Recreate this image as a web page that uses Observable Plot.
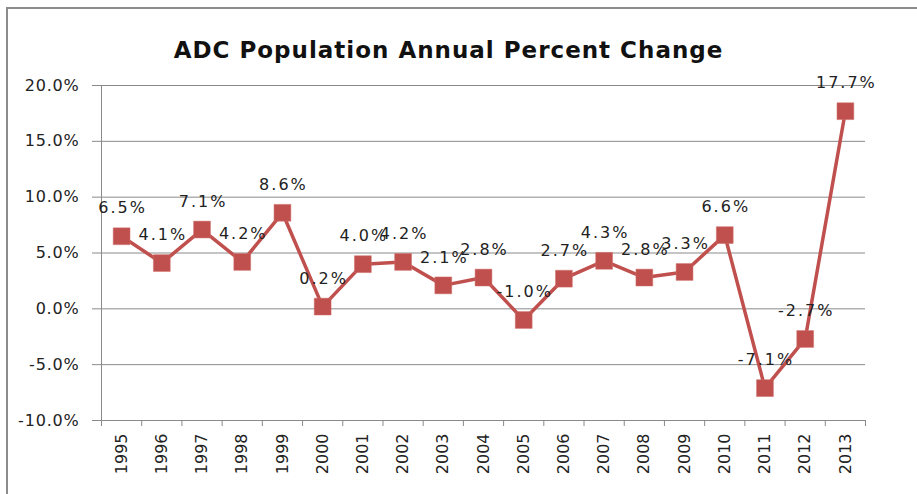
<!DOCTYPE html>
<html>
<head>
<meta charset="utf-8">
<script src="https://cdn.jsdelivr.net/npm/d3@7"></script>
<script src="https://cdn.jsdelivr.net/npm/@observablehq/plot@0.6"></script>
<style>
  body { margin: 0; background: #fff; }
  #wrap { position: relative; width: 917px; height: 494px; overflow: hidden; }
  #frame { position: absolute; left: 6px; top: 7px; width: 1000px; height: 1000px; border-left: 2px solid #8c8c8c; border-top: 2px solid #8c8c8c; }
  #title { position: absolute; left: 0; top: 37px; width: 897px; text-align: center; font: bold 23px "DejaVu Sans", sans-serif; letter-spacing: 1px; line-height: 26px; color: #111; white-space: nowrap; }
  #chart { position: absolute; left: 0; top: 70px; }
  #chart svg, #chart svg text { font-family: "DejaVu Sans", sans-serif !important; }
  #chart g[aria-label="text"] text { letter-spacing: 2px; }
  #chart g[aria-label="y-axis tick label"] text { letter-spacing: 0.8px; }
</style>
</head>
<body>
<div id="wrap">
  <div id="frame"></div>
  <div id="title">ADC Population Annual Percent Change</div>
  <div id="chart"></div>
</div>
<script>
const years = [1995,1996,1997,1998,1999,2000,2001,2002,2003,2004,2005,2006,2007,2008,2009,2010,2011,2012,2013];
const changes = [6.5,4.1,7.1,4.2,8.6,0.2,4.0,4.2,2.1,2.8,-1.0,2.7,4.3,2.8,3.3,6.6,-7.1,-2.7,17.7];
const yTicks = [-10,-5,0,5,10,15,20];

const data = years.map((y, i) => ({year: y, value: changes[i]}));
const bounds = [...years.map(y => y - 0.5), years[years.length - 1] + 0.5];
const color = "#C0504D";
const font = '"DejaVu Sans", sans-serif';

const chart = Plot.plot({
  width: 917,
  height: 420,
  marginTop: 15,
  marginBottom: 70,
  marginLeft: 101,
  marginRight: 52,
  style: {fontFamily: font, fontSize: "16px", color: "#222", background: "transparent"},
  x: {type: "linear", domain: [bounds[0], bounds[bounds.length - 1]]},
  y: {domain: [-10, 20]},
  marks: [
    Plot.gridY(yTicks, {stroke: "#8a8a8a", strokeOpacity: 1, strokeWidth: 1}),
    Plot.ruleX([bounds[0]], {y1: -10, y2: 20, stroke: "#8a8a8a", strokeWidth: 1}),
    Plot.axisY({ticks: yTicks, tickFormat: d => d.toFixed(1) + "%", tickSize: 9, tickPadding: 13, stroke: "#8a8a8a", label: null, fontSize: 16, fill: "#222"}),
    Plot.axisX({ticks: bounds, tickFormat: () => "", tickSize: 6, stroke: "#8a8a8a", label: null}),
    Plot.axisX({ticks: years, tickFormat: d => String(d), tickSize: 0, tickPadding: 13, tickRotate: -90, label: null, fontSize: 16, fill: "#222"}),
    Plot.line(data, {x: "year", y: "value", stroke: color, strokeWidth: 3.5}),
    Plot.dot(data, {x: "year", y: "value", symbol: "square", r: 9.5, fill: color, stroke: "#d0706d", strokeWidth: 0.5}),
    Plot.text(data, {x: "year", y: "value", text: d => d.value.toFixed(1) + "%", dy: -28, dx: 1, fontSize: 16, fill: "#222"})
  ]
});
document.getElementById("chart").append(chart);
</script>
</body>
</html>
